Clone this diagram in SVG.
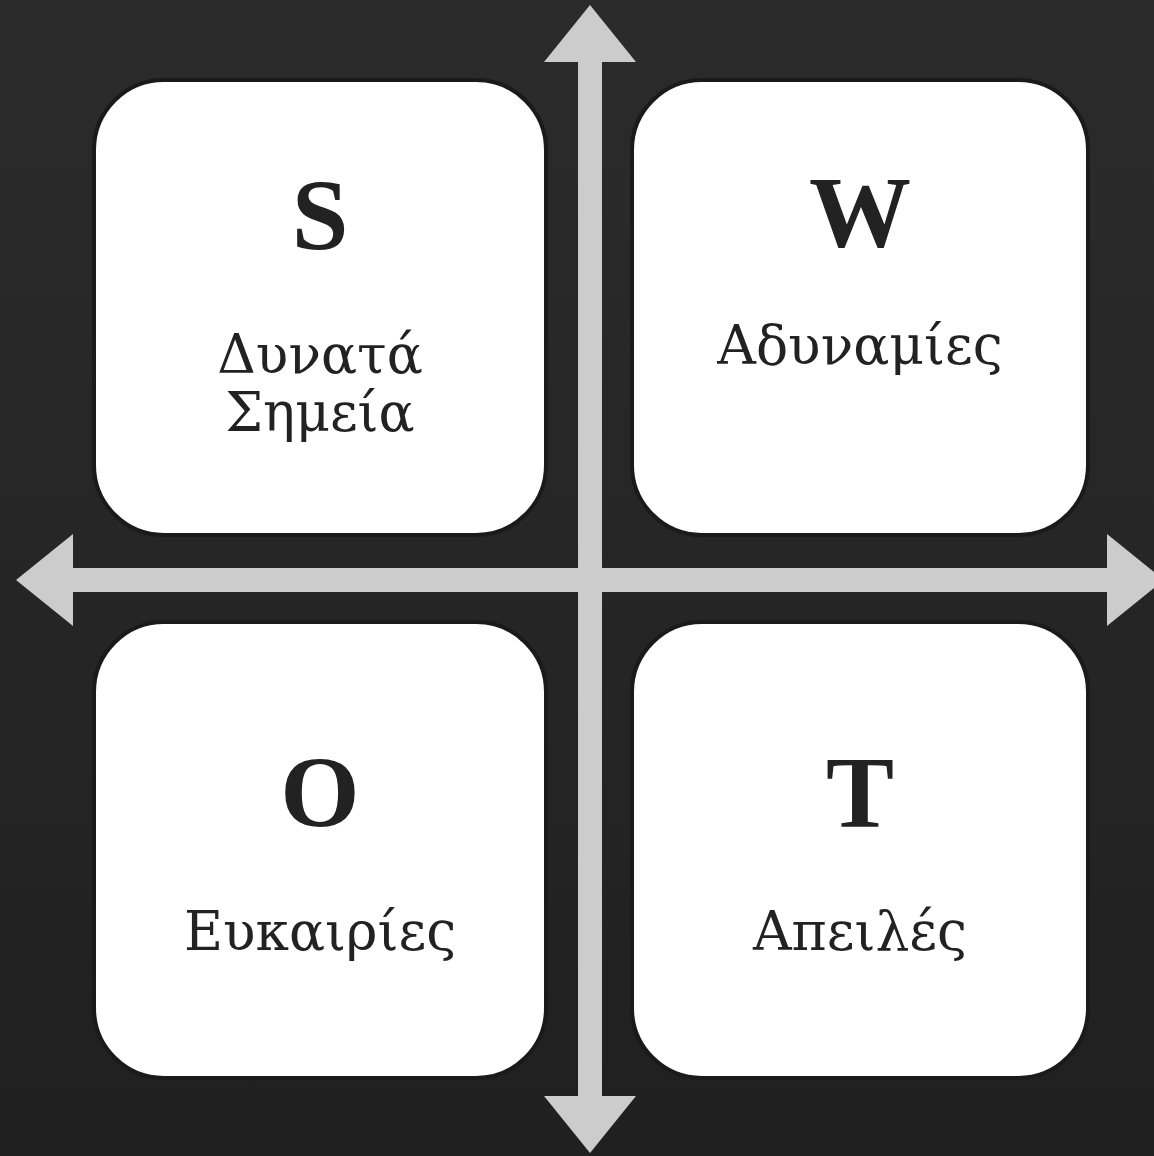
<svg xmlns="http://www.w3.org/2000/svg" width="1154" height="1156" viewBox="0 0 1154 1156">
<style>
.box{fill:#ffffff;stroke:#1a1a1a;stroke-width:4}
.arrow{fill:#cccccc}
.big{font-family:"Liberation Serif","DejaVu Serif",serif;font-weight:bold;font-size:102px;fill:#222222;text-anchor:middle}
.lbl{font-family:"DejaVu Serif","Liberation Serif",serif;font-size:53.5px;fill:#222222;text-anchor:middle}
</style>
<defs>
<linearGradient id="bg" x1="0" y1="0" x2="0" y2="1">
<stop offset="0" stop-color="#2b2b2b"/>
<stop offset="1" stop-color="#202020"/>
</linearGradient>
</defs>
<rect width="1154" height="1156" fill="url(#bg)"/>
<g id="connectors">
<polygon class="arrow" points="590,5 636,62 602,62 602,1096 636,1096 590,1153 544,1096 578,1096 578,62 544,62"/>
<polygon class="arrow" points="16,580 73,534 73,568 1107,568 1107,534 1164,580 1107,626 1107,592 73,592 73,626"/>
</g>
<g id="node-s">
<rect class="box" x="94" y="80" width="452" height="455" rx="70" ry="70"/>
<text class="big" x="320" y="250">S</text>
<text class="lbl" x="320" y="373">Δυνατά</text>
<text class="lbl" x="320" y="431">Σημεία</text>
</g>
<g id="node-w">
<rect class="box" x="632" y="80" width="456" height="455" rx="70" ry="70"/>
<text class="big" x="860" y="247">W</text>
<text class="lbl" x="860" y="364">Αδυναμίες</text>
</g>
<g id="node-o">
<rect class="box" x="94" y="622" width="452" height="456" rx="70" ry="70"/>
<text class="big" x="320" y="827">O</text>
<text class="lbl" x="320" y="950">Ευκαιρίες</text>
</g>
<g id="node-t">
<rect class="box" x="632" y="622" width="456" height="456" rx="70" ry="70"/>
<text class="big" x="860" y="827">T</text>
<text class="lbl" x="860" y="950">Απειλές</text>
</g>
</svg>
